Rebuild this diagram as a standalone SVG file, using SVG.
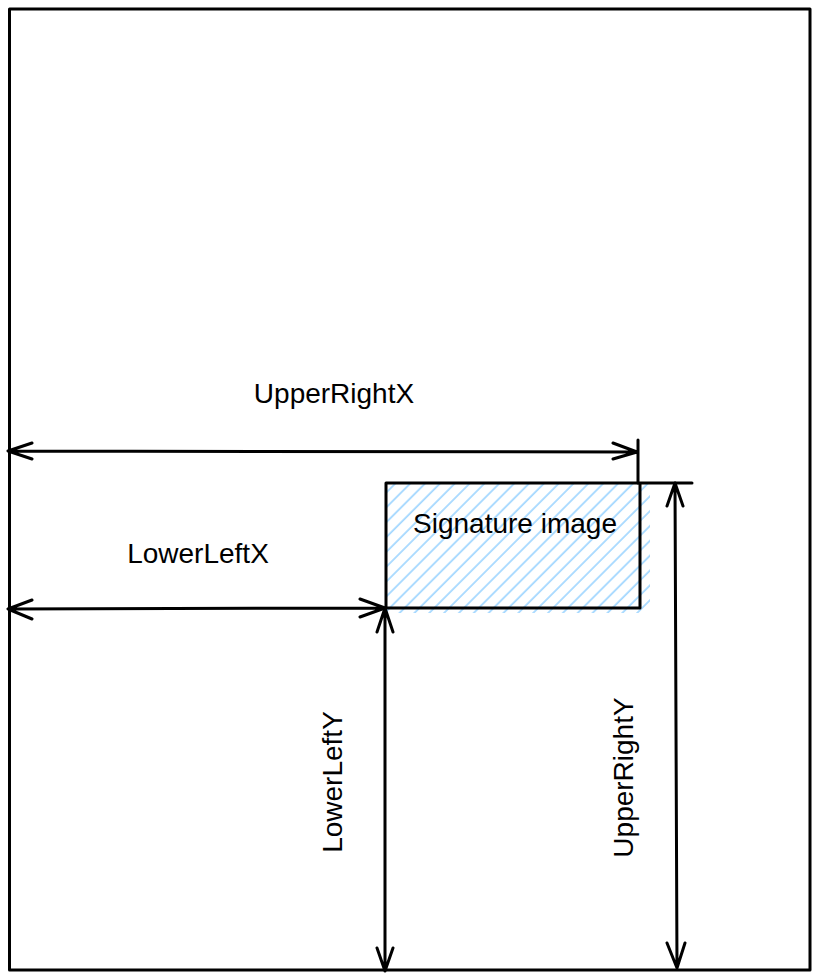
<svg xmlns="http://www.w3.org/2000/svg" width="819" height="980" viewBox="0 0 819 980">
  <style>
    .ln { fill: none; stroke: #000; stroke-width: 3; stroke-linecap: round; stroke-linejoin: round; }
    .lbl { font-family: "Liberation Sans", Arial, sans-serif; font-size: 28px; fill: #000; text-anchor: middle; }
  </style>
  <defs>
    <pattern id="hatch" patternUnits="userSpaceOnUse" width="10.5" height="10.5" patternTransform="rotate(45)">
      <line x1="2" y1="0" x2="2" y2="10.5" stroke="#a5d8ff" stroke-width="1.8"/>
    </pattern>
  </defs>
  <rect width="819" height="980" fill="#fff"/>

  <g id="page">
    <rect class="ln" x="9.5" y="9" width="800.5" height="961"/>
  </g>

  <g id="signature-image">
    <rect x="386" y="483" width="264" height="130" fill="url(#hatch)"/>
    <path class="ln" d="M692 483 L386 483 L386 608 L640 608 L640 483"/>
    <text class="lbl" x="515" y="533">Signature image</text>
  </g>

  <g id="connectors">
    <g id="upper-right-x">
      <path class="ln" d="M8 451 L637 452 M32 443 L8 451 L32 459 M613 443 L637 452 L613 459 M638 440 L638 483"/>
      <text class="lbl" x="334" y="403">UpperRightX</text>
    </g>
    <g id="lower-left-x">
      <path class="ln" d="M8 609 L385 608 M32 600 L8 609 L32 619 M360 599 L385 608 L360 617"/>
      <text class="lbl" x="198" y="563">LowerLeftX</text>
    </g>
    <g id="lower-left-y">
      <path class="ln" d="M385 608 L385 971 M377 632 L385 608 L393 632 M377 948 L385 971 L393 948"/>
      <text class="lbl" transform="translate(341.5 782) rotate(-90)">LowerLeftY</text>
    </g>
    <g id="upper-right-y">
      <path class="ln" d="M675 483 L677 968 M667 506 L675 483 L683 506 M667 943 L677 968 L685 943"/>
      <text class="lbl" transform="translate(633 777.5) rotate(-90)">UpperRightY</text>
    </g>
  </g>
</svg>
